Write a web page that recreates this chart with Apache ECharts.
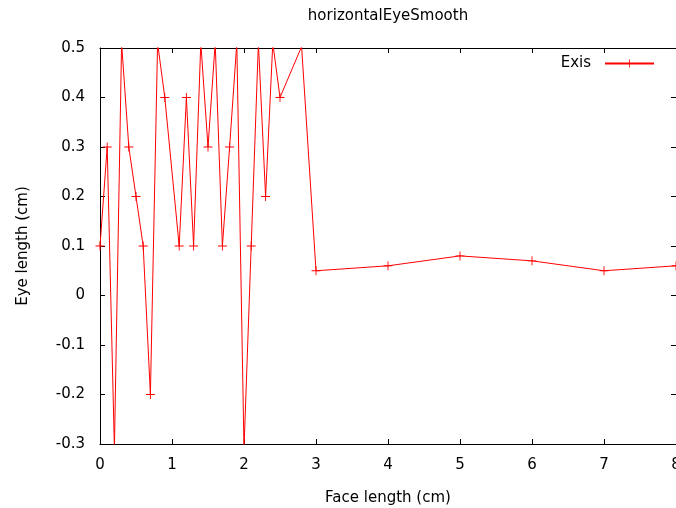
<!doctype html>
<html>
<head>
    <meta charset="utf-8">
    <title>horizontalEyeSmooth</title>
    <script src="https://cdn.jsdelivr.net/npm/echarts@6/dist/echarts.min.js"></script>
    <style>
        html, body {margin: 0; padding: 0; background: #fff;}
        #chart {width: 676px; height: 508px;}
    </style>
</head>
<body>
<div id="chart"></div>
<script>
    // values; peaks/dips going past the frame are clipped
    let faceLen = [0, 0.1, 0.2, 0.3, 0.4, 0.5, 0.6, 0.7, 0.8, 0.9, 1.1, 1.2, 1.3, 1.4, 1.5, 1.6, 1.7, 1.8, 1.9, 2.0,
        2.1, 2.2, 2.3, 2.4, 2.5, 2.8, 3, 4, 5, 6, 7, 8];
    let eyeLen = [0.1, 0.3, -0.31, 0.51, 0.3, 0.2, 0.1, -0.2, 0.51, 0.4, 0.1, 0.4, 0.1, 0.51, 0.3, 0.51, 0.1, 0.3, 0.51, -0.31,
        0.1, 0.51, 0.2, 0.51, 0.4, 0.503, 0.05, 0.06, 0.08, 0.07, 0.05, 0.06];
    let xTicks = [0, 1, 2, 3, 4, 5, 6, 7, 8];
    let yTicks = [-0.3, -0.2, -0.1, 0, 0.1, 0.2, 0.3, 0.4, 0.5];

    let font = 'DejaVu Sans';
    let plus = 'path://M0,4.5H10V5.5H0Z M4.5,0H5.5V10H4.5Z';

    let chart = echarts.init(document.getElementById('chart'));

    let tickStyle = {inside: true, length: 5, lineStyle: {color: '#000'}};
    let lineStyle = {onZero: false, lineStyle: {color: '#000', width: 1}};
    let txt = {fontFamily: font, fontSize: 15, color: '#000'};

    chart.setOption({
        animation: false,
        title: {
            text: 'horizontalEyeSmooth',
            left: 388, top: 9, textAlign: 'center', padding: 0,
            textStyle: Object.assign({fontWeight: 'normal'}, txt)
        },
        legend: {
            right: 21, top: 56, padding: 0,
            align: 'right',
            itemWidth: 49, itemHeight: 10,
            textStyle: Object.assign({padding: [0, 9, 0, 0]}, txt),
            data: ['Exis']
        },
        grid: {left: 100, right: 0, top: 48, bottom: 64, outerBoundsMode: 'none'},
        xAxis: [{
            type: 'value', min: xTicks[0], max: xTicks[xTicks.length - 1], interval: 1,
            name: 'Face length (cm)', nameLocation: 'middle', nameGap: 47,
            nameTextStyle: txt,
            axisLine: lineStyle, axisTick: tickStyle, splitLine: {show: false},
            axisLabel: Object.assign({margin: 14, showMaxLabel: true}, txt)
        }, {
            type: 'value', position: 'top', min: xTicks[0], max: xTicks[xTicks.length - 1], interval: 1,
            axisLine: lineStyle, axisTick: tickStyle, splitLine: {show: false}, axisLabel: {show: false}
        }],
        yAxis: [{
            type: 'value', min: yTicks[0], max: yTicks[yTicks.length - 1], interval: 0.1,
            name: 'Eye length (cm)', nameLocation: 'middle', nameGap: 69,
            nameTextStyle: txt,
            axisLine: lineStyle, axisTick: tickStyle, splitLine: {show: false},
            axisLabel: Object.assign({
                margin: 15,
                formatter: v => String(Math.round(v * 10) / 10)
            }, txt)
        }, {
            type: 'value', position: 'right', min: yTicks[0], max: yTicks[yTicks.length - 1], interval: 0.1,
            axisLine: lineStyle, axisTick: tickStyle, splitLine: {show: false}, axisLabel: {show: false}
        }],
        series: [{
            name: 'Exis',
            type: 'line',
            data: faceLen.map((x, i) => [x, eyeLen[i]]),
            clip: true,
            symbol: plus, symbolSize: 9,
            color: '#ff0000',
            itemStyle: {color: '#ff0000'},
            lineStyle: {color: '#ff0000', width: 1}
        }]
    });

    window.onresize = function () {
        chart.resize();
    };
</script>
</body>
</html>
